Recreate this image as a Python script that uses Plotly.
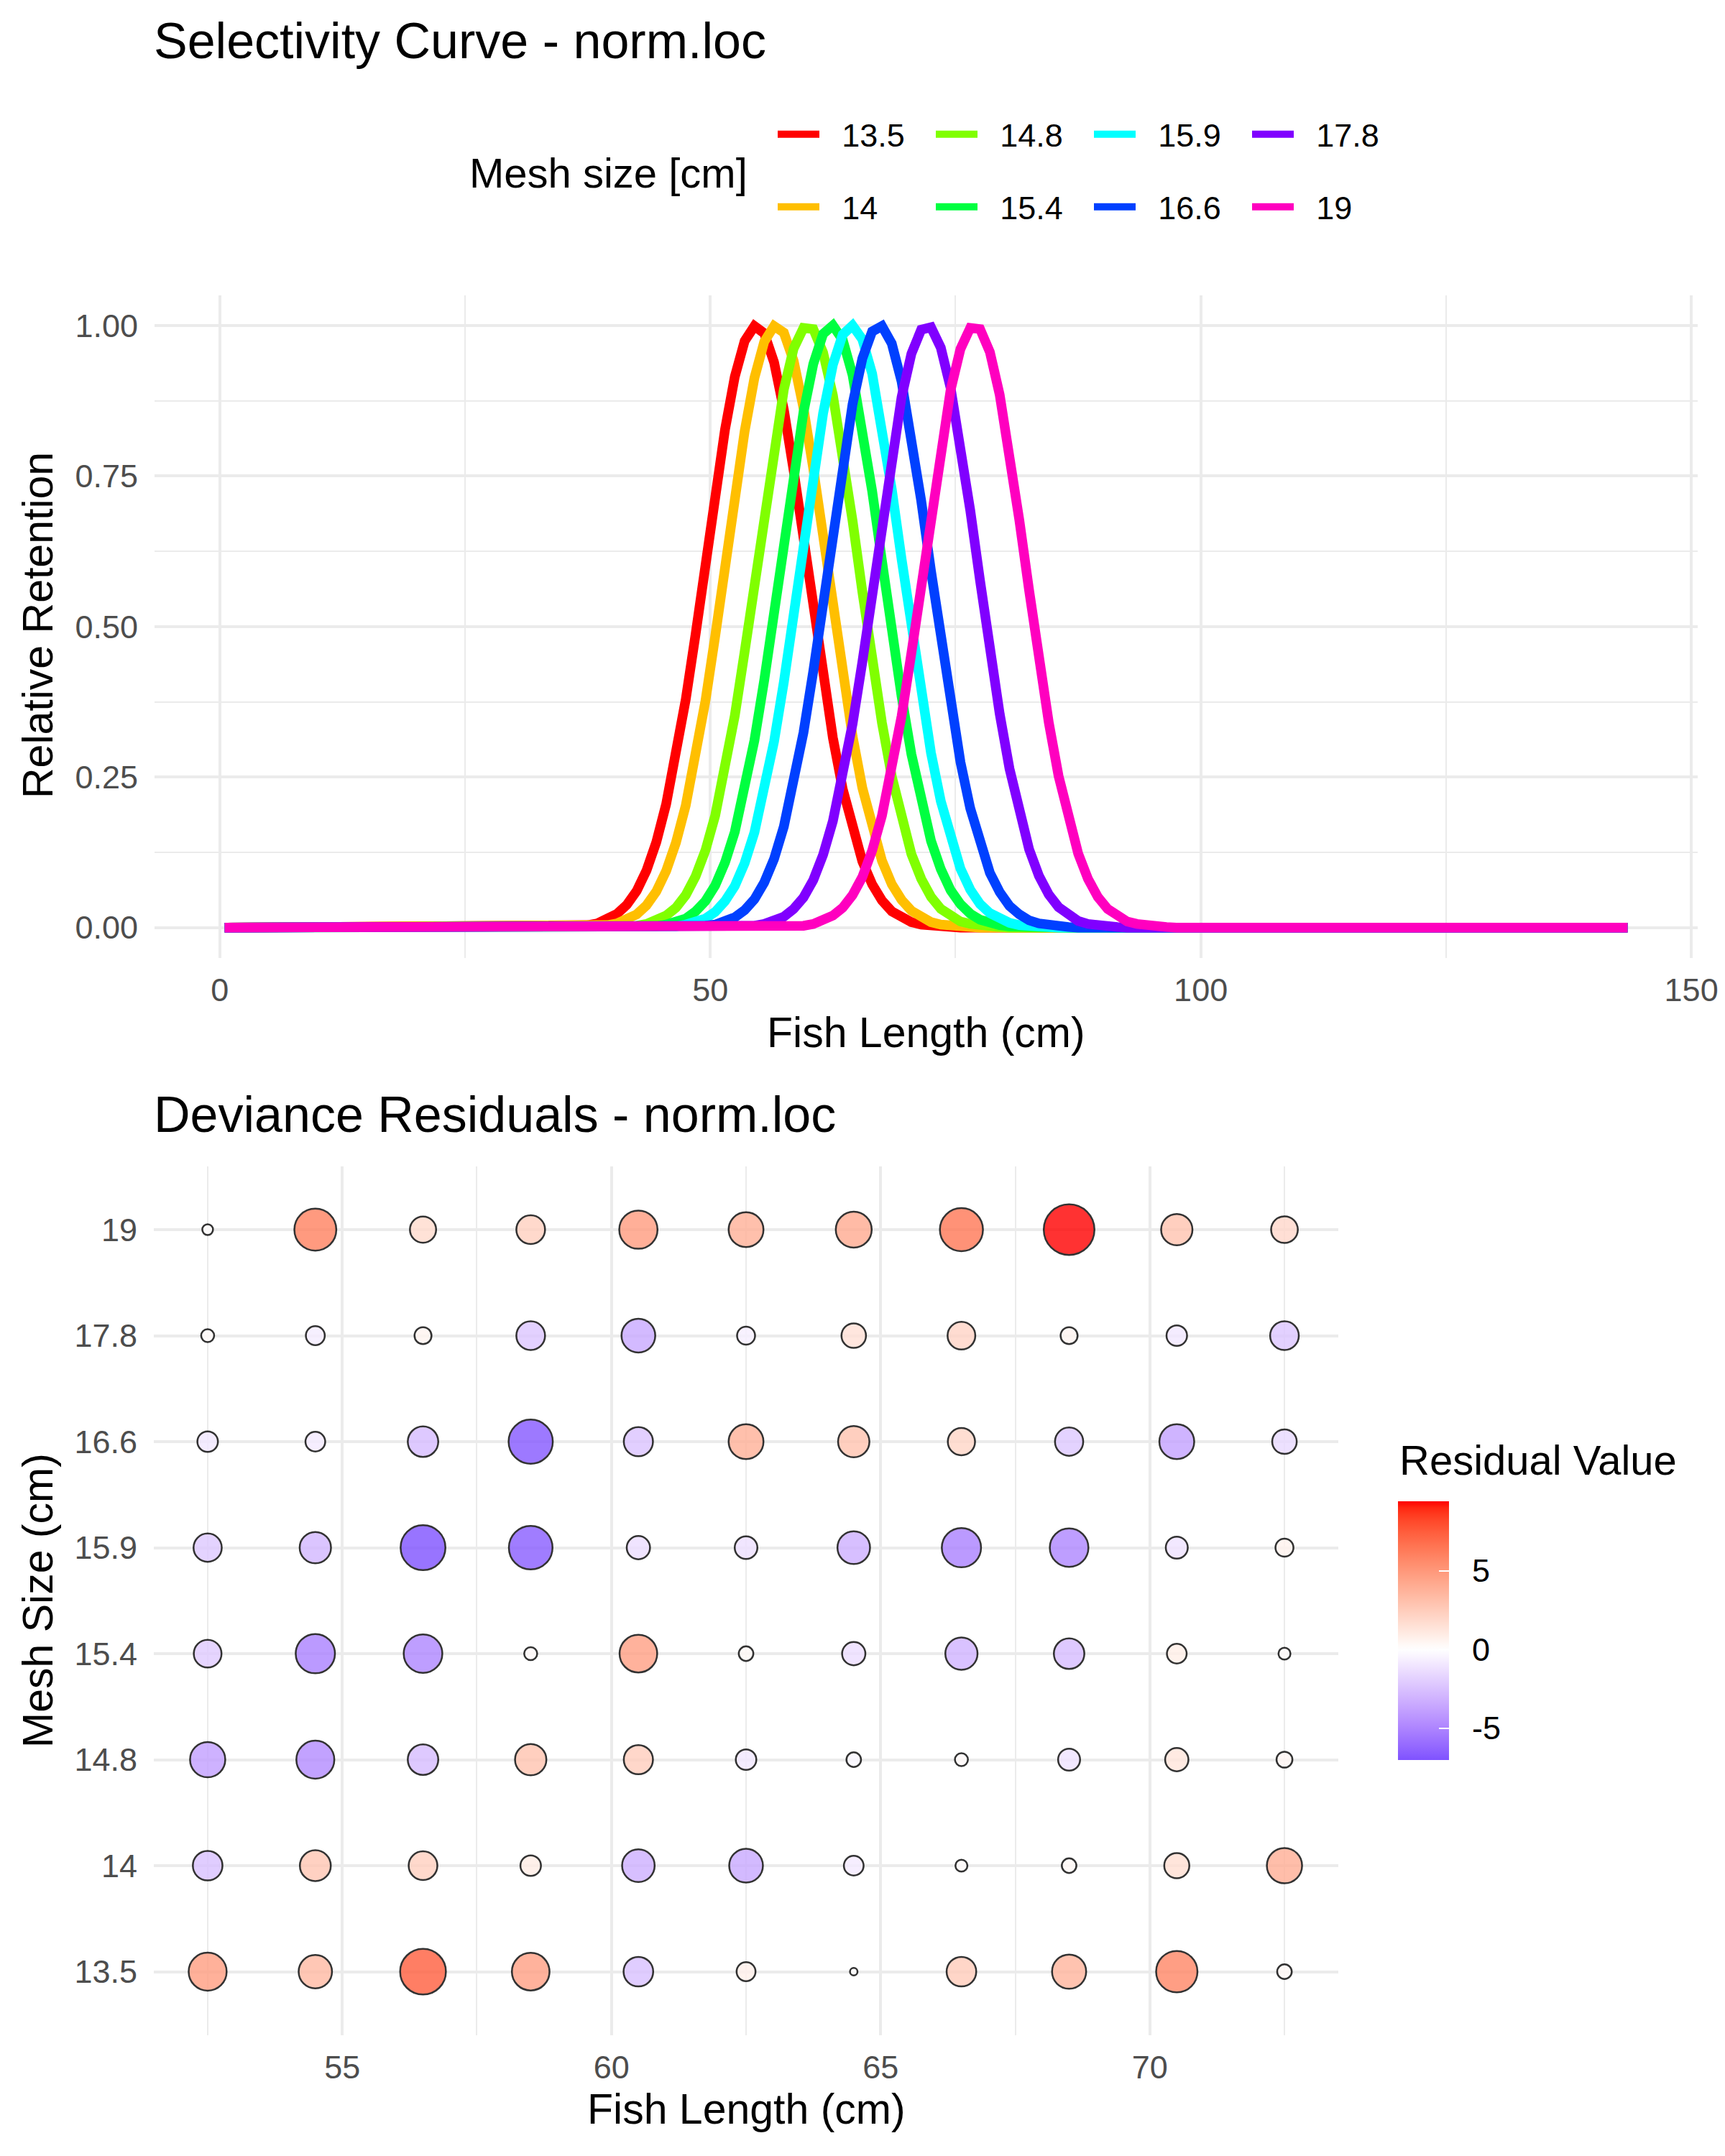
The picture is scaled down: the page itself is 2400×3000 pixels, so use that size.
import numpy as np
import plotly.graph_objects as go

# ---- selectivity curves ----
mesh_sizes = ["13.5", "14", "14.8", "15.4", "15.9", "16.6", "17.8", "19"]
mesh_colors = ["#FF0000", "#FFBF00", "#80FF00", "#00FF40", "#00FFFF", "#0040FF", "#8000FF", "#FF00BF"]
fish_lengths = np.arange(0.5, 144, 1.0)  # length classes 0.5 ... 143.5

ret_13_5 = [0] * 35 + [0.001, 0.002, 0.004, 0.007, 0.013, 0.023, 0.038, 0.061, 0.095, 0.142,
                       0.205, 0.284, 0.379, 0.487, 0.604, 0.720, 0.827, 0.915, 0.974, 0.999,
                       0.987, 0.939, 0.860, 0.759, 0.645, 0.527, 0.416, 0.315, 0.230, 0.162,
                       0.110, 0.072, 0.045, 0.027, 0.016, 0.009, 0.005, 0.003, 0.001, 0.001] + [0] * 69
ret_14 = [0] * 37 + [0.001, 0.002, 0.004, 0.007, 0.013, 0.022, 0.037, 0.060, 0.094, 0.141,
                     0.203, 0.282, 0.376, 0.484, 0.601, 0.717, 0.824, 0.913, 0.973, 0.999,
                     0.988, 0.941, 0.863, 0.762, 0.648, 0.530, 0.418, 0.318, 0.232, 0.164,
                     0.111, 0.072, 0.046, 0.028, 0.016, 0.009, 0.005, 0.003, 0.001, 0.001] + [0] * 67
ret_14_8 = [0] * 40 + [0.001, 0.002, 0.003, 0.006, 0.011, 0.020, 0.033, 0.054, 0.085, 0.128,
                       0.186, 0.261, 0.352, 0.458, 0.572, 0.690, 0.800, 0.894, 0.962, 0.996,
                       0.994, 0.955, 0.884, 0.787, 0.676, 0.558, 0.444, 0.340, 0.251, 0.179,
                       0.122, 0.081, 0.051, 0.031, 0.018, 0.010, 0.006, 0.003, 0.002, 0.001] + [0] * 64
ret_15_4 = [0] * 42 + [0.001, 0.001, 0.002, 0.005, 0.009, 0.015, 0.027, 0.044, 0.070, 0.108,
                       0.159, 0.227, 0.311, 0.411, 0.522, 0.639, 0.754, 0.856, 0.936, 0.986,
                       1.000, 0.976, 0.918, 0.831, 0.725, 0.609, 0.492, 0.384, 0.288, 0.208,
                       0.144, 0.097, 0.062, 0.039, 0.023, 0.013, 0.007, 0.004, 0.002, 0.001] + [0] * 62
ret_15_9 = [0] * 44 + [0.001, 0.001, 0.002, 0.005, 0.009, 0.015, 0.026, 0.044, 0.069, 0.107,
                       0.158, 0.225, 0.309, 0.408, 0.519, 0.637, 0.751, 0.854, 0.935, 0.985,
                       1.000, 0.977, 0.920, 0.834, 0.728, 0.612, 0.495, 0.386, 0.290, 0.210,
                       0.146, 0.098, 0.063, 0.039, 0.024, 0.014, 0.008, 0.004, 0.002, 0.001] + [0] * 60
ret_16_6 = [0] * 47 + [0.001, 0.001, 0.003, 0.005, 0.009, 0.017, 0.029, 0.047, 0.075, 0.114,
                       0.168, 0.238, 0.324, 0.426, 0.539, 0.656, 0.769, 0.869, 0.945, 0.990,
                       0.999, 0.970, 0.907, 0.817, 0.709, 0.592, 0.477, 0.369, 0.275, 0.198,
                       0.137, 0.091, 0.059, 0.036, 0.022, 0.012, 0.007, 0.004, 0.002, 0.001] + [0] * 57
ret_17_8 = [0] * 52 + [0.001, 0.001, 0.003, 0.006, 0.010, 0.018, 0.031, 0.050, 0.079, 0.121,
                       0.177, 0.249, 0.338, 0.441, 0.555, 0.672, 0.784, 0.881, 0.953, 0.993,
                       0.997, 0.963, 0.896, 0.803, 0.693, 0.576, 0.461, 0.355, 0.264, 0.188,
                       0.130, 0.086, 0.055, 0.034, 0.020, 0.011, 0.006, 0.003, 0.002, 0.001] + [0] * 52
ret_19 = [0] * 57 + [0.001, 0.002, 0.003, 0.006, 0.011, 0.020, 0.033, 0.054, 0.084, 0.128,
                     0.186, 0.260, 0.351, 0.456, 0.571, 0.688, 0.799, 0.893, 0.961, 0.996,
                     0.994, 0.956, 0.885, 0.789, 0.677, 0.560, 0.445, 0.341, 0.252, 0.179,
                     0.123, 0.081, 0.051, 0.031, 0.018, 0.010, 0.006, 0.003, 0.002, 0.001] + [0] * 47
retention = [ret_13_5, ret_14, ret_14_8, ret_15_4, ret_15_9, ret_16_6, ret_17_8, ret_19]

# ---- deviance residuals (rows = mesh size, cols = length class) ----
resid_lengths = [52.5, 54.5, 56.5, 58.5, 60.5, 62.5, 64.5, 66.5, 68.5, 70.5, 72.5]
resid_13_5 = [4.7, 3.4, 7.4, 4.6, -2.5, 0.7, 0.05, 2.5, 3.6, 5.8, 0.3]
resid_14 = [-2.5, 2.8, 2.3, 0.9, -3.2, -3.5, -0.8, 0.15, 0.3, 1.6, 3.9]
resid_14_8 = [-3.9, -4.7, -2.7, 2.9, 2.4, -0.9, -0.3, 0.2, -1.1, 1.3, 0.4]
resid_15_4 = [-2.1, -5.1, -4.9, 0.2, 4.6, 0.3, -1.3, -3.1, -2.7, 0.8, 0.15]
resid_15_9 = [-2.2, -2.9, -7.03, -6.6, -1.3, -1.2, -3.2, -5.1, -4.9, -1.1, 0.6]
resid_16_6 = [-0.9, -0.8, -2.7, -6.8, -2.4, 3.8, 2.9, 2.0, -2.2, -3.8, -1.5]
resid_17_8 = [0.2, -0.7, 0.5, -2.3, -3.5, -0.6, 1.5, 2.1, 0.5, -0.9, -2.3]
resid_19 = [0.1, 6.0, 1.8, 2.3, 4.8, 3.8, 4.1, 6.4, 9.41, 2.9, 1.9]
residuals = [resid_13_5, resid_14, resid_14_8, resid_15_4, resid_15_9, resid_16_6, resid_17_8, resid_19]

W, H = 2400, 3000
OFF = 8  # the page body adds an 8px margin around the plot div
FONT = "Liberation Sans, Arial, sans-serif"
GRID = "#EBEBEB"


def px_x(p):
    return (p - OFF) / W


def px_y(p):
    return 1 - (p - OFF) / H


# blue-white-red gradient interpolated in Lab (like ggplot's gradient2)
def to_lab(hx):
    rgb = [int(hx[i:i + 2], 16) / 255 for i in (1, 3, 5)]
    r, g, b = [c / 12.92 if c <= 0.04045 else ((c + 0.055) / 1.055) ** 2.4 for c in rgb]
    X = (0.4124 * r + 0.3576 * g + 0.1805 * b) / 0.95047
    Y = 0.2126 * r + 0.7152 * g + 0.0722 * b
    Z = (0.0193 * r + 0.1192 * g + 0.9505 * b) / 1.08883
    f = lambda t: t ** (1 / 3) if t > 0.008856 else 7.787 * t + 16 / 116
    return 116 * f(Y) - 16, 500 * (f(X) - f(Y)), 200 * (f(Y) - f(Z))


def to_hex(L, a, bb):
    fy = (L + 16) / 116
    fx, fz = fy + a / 500, fy - bb / 200
    finv = lambda t: t ** 3 if t ** 3 > 0.008856 else (t - 16 / 116) / 7.787
    X, Y, Z = finv(fx) * 0.95047, finv(fy), finv(fz) * 1.08883
    lin = [3.2406 * X - 1.5372 * Y - 0.4986 * Z,
           -0.9689 * X + 1.8758 * Y + 0.0415 * Z,
           0.0557 * X - 0.2040 * Y + 1.0570 * Z]
    out = []
    for c in lin:
        c = c * 12.92 if c <= 0.0031308 else 1.055 * c ** (1 / 2.4) - 0.055
        out.append(int(round(min(max(c, 0), 1) * 255)))
    return "#%02X%02X%02X" % tuple(out)


low, mid, high = to_lab("#0000FF"), to_lab("#FFFFFF"), to_lab("#FF0000")
all_res = [v for row in residuals for v in row]
cmin, cmax = min(all_res), max(all_res)
extent = max(abs(cmin), abs(cmax))
colorscale = []
for v in np.linspace(cmin, cmax, 41):
    t = 0.5 + v / extent / 2
    if t < 0.5:
        s, a, b = t / 0.5, low, mid
    else:
        s, a, b = (t - 0.5) / 0.5, mid, high
    lab = [a[i] + (b[i] - a[i]) * s for i in range(3)]
    colorscale.append([(v - cmin) / (cmax - cmin), to_hex(*lab)])

fig = go.Figure()

# top panel: selectivity curves (legend split in two rows, filled by column)
legend_of = ["legend", "legend2", "legend", "legend2", "legend", "legend2", "legend", "legend2"]
for name, col, ys, lg in zip(mesh_sizes, mesh_colors, retention, legend_of):
    fig.add_trace(go.Scatter(x=fish_lengths, y=ys, mode="lines", name="\u2002\u200a" + name,
                             line=dict(color=col, width=13.5), legend=lg,
                             xaxis="x", yaxis="y"))

# bottom panel: residual bubbles
abs_res = [abs(v) for v in all_res]
rmin, rmax = min(abs_res), max(abs_res)
sizes = [13 + 60 * np.sqrt((a - rmin) / (rmax - rmin)) - 2.5 for a in abs_res]
bx = [x for row in residuals for x in resid_lengths]
by = [m for m, row in zip(mesh_sizes, residuals) for _ in row]
fig.add_trace(go.Scatter(
    x=bx, y=by, mode="markers", showlegend=False, xaxis="x2", yaxis="y2",
    marker=dict(size=sizes, color=all_res, colorscale=colorscale, cmin=cmin, cmax=cmax,
                opacity=0.8, line=dict(color="black", width=2.5),
                colorbar=dict(thickness=71, thicknessmode="pixels", len=360, lenmode="pixels",
                              x=px_x(1945), xanchor="left", y=px_y(2269), yanchor="middle",
                              outlinewidth=0, xpad=0, ypad=0,
                              tickvals=[-5, 0, 5],
                              ticktext=["\u2002-5", "\u20020", "\u20025"],
                              ticks="inside", ticklen=14, tickwidth=2, tickcolor="white",
                              tickfont=dict(size=45, color="black", family=FONT))),
))

axis_common = dict(showline=False, zeroline=False, ticks="", gridcolor=GRID, gridwidth=4,
                   automargin=False, tickfont=dict(size=45, color="#4D4D4D", family=FONT))

fig.update_layout(
    width=W, height=H, margin=dict(l=0, r=0, t=0, b=0, autoexpand=False),
    paper_bgcolor="white", plot_bgcolor="white",
    font=dict(family=FONT, color="black"),
    xaxis=dict(domain=[px_x(215), px_x(2362)], range=[-6.65, 150.65], tickvals=[0, 50, 100, 150],
               minor=dict(dtick=25, showgrid=True, gridcolor=GRID, gridwidth=2.2),
               anchor="y", ticklabelstandoff=14, **axis_common),
    yaxis=dict(domain=[px_y(1332.6), px_y(411)], range=[-0.05, 1.05], dtick=0.25, tickformat=".2f",
               minor=dict(dtick=0.125, showgrid=True, gridcolor=GRID, gridwidth=2.2),
               anchor="x", ticklabelstandoff=22, **axis_common),
    xaxis2=dict(domain=[px_x(214), px_x(1862)], range=[51.5, 73.5], dtick=5,
                minor=dict(dtick=2.5, showgrid=True, gridcolor=GRID, gridwidth=2.2),
                anchor="y2", ticklabelstandoff=14, **axis_common),
    yaxis2=dict(domain=[px_y(2832), px_y(1622.5)], type="category", categoryorder="array",
                categoryarray=mesh_sizes, range=[-0.6, 7.6], anchor="x2", ticklabelstandoff=22,
                **axis_common),
    legend=dict(orientation="h", x=px_x(1077), xanchor="left", y=px_y(187), yanchor="middle",
                font=dict(size=45, color="black", family=FONT), itemwidth=58,
                entrywidth=147, bgcolor="rgba(0,0,0,0)", traceorder="normal"),
    legend2=dict(orientation="h", x=px_x(1077), xanchor="left", y=px_y(288), yanchor="middle",
                 font=dict(size=45, color="black", family=FONT), itemwidth=58,
                 entrywidth=147, bgcolor="rgba(0,0,0,0)", traceorder="normal"),
)

annots = [
    dict(text="Selectivity Curve - norm.loc", x=px_x(212), y=px_y(57), xanchor="left", size=70),
    dict(text="Mesh size [cm]", x=px_x(1042), y=px_y(241), xanchor="right", size=58),
    dict(text="Fish Length (cm)", x=px_x(1288), y=px_y(1437), xanchor="center", size=59),
    dict(text="Relative Retention", x=px_x(53), y=px_y(870), xanchor="center", size=59, angle=-90),
    dict(text="Deviance Residuals - norm.loc", x=px_x(212), y=px_y(1551), xanchor="left", size=70),
    dict(text="Fish Length (cm)", x=px_x(1038), y=px_y(2935), xanchor="center", size=59),
    dict(text="Mesh Size (cm)", x=px_x(53), y=px_y(2227), xanchor="center", size=59, angle=-90),
    dict(text="Residual Value", x=px_x(1945), y=px_y(2031), xanchor="left", size=58),
]
for a in annots:
    fig.add_annotation(text=a["text"], x=a["x"], y=a["y"], xref="paper", yref="paper",
                       xanchor=a["xanchor"], yanchor="middle", showarrow=False,
                       textangle=a.get("angle", 0),
                       font=dict(size=a["size"], color="black", family=FONT))

fig.write_html("out.html")
